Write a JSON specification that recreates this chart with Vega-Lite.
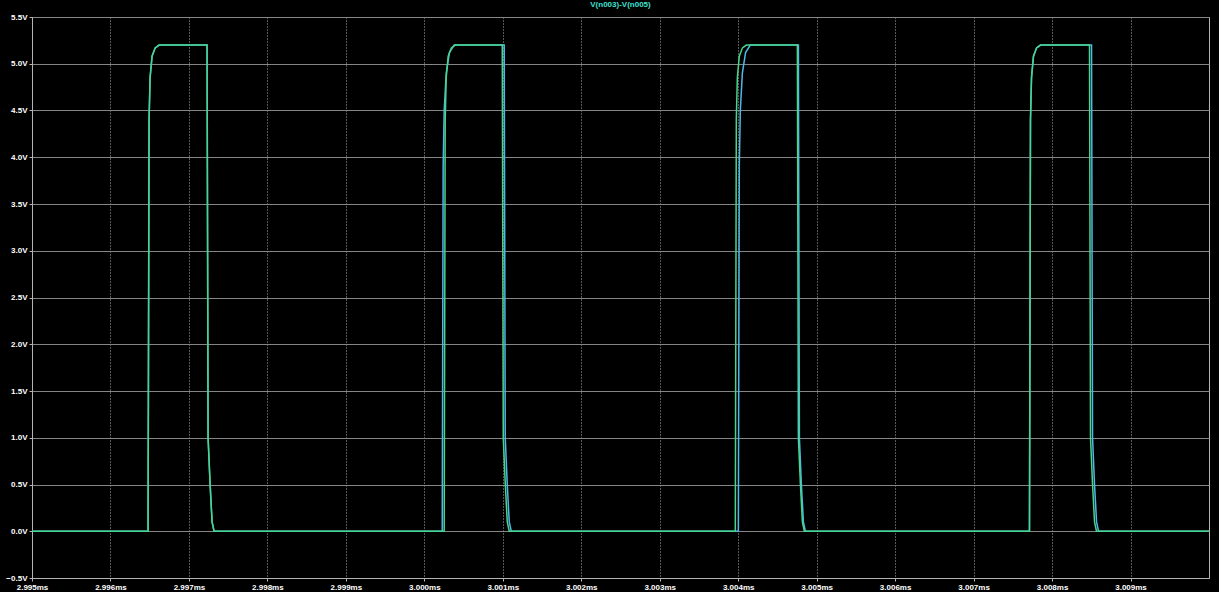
{
  "$schema": "https://vega.github.io/schema/vega-lite/v6.json",
  "width": 1177,
  "height": 561,
  "autosize": {"type": "none"},
  "padding": {"left": 32, "top": 17, "right": 10, "bottom": 14},
  "background": "#000000",
  "title": {"text": "V(n003)-V(n005)", "fontSize": 8, "font": "Liberation Sans", "fontWeight": "bold", "color": "#3fe0d0", "offset": 4, "anchor": "middle"},
  "config": {
    "view": {"stroke": "#b4b4b4", "strokeWidth": 1, "fill": "#000000"},
    "axis": {
      "labelColor": "#ffffff", "labelFont": "Liberation Sans", "labelFontSize": 8, "labelFontWeight": "bold",
      "domainColor": "#b4b4b4", "tickColor": "#b4b4b4", "tickSize": 3, "labelPadding": 2, "title": null
    }
  },
  "datasets": {
    "traces": [
      {"trace": "V(n005)", "t": 2.995, "v": 0},
      {"trace": "V(n005)", "t": 2.996479, "v": 0},
      {"trace": "V(n005)", "t": 2.996492, "v": 4.4},
      {"trace": "V(n005)", "t": 2.996505, "v": 4.85},
      {"trace": "V(n005)", "t": 2.99653, "v": 5.08},
      {"trace": "V(n005)", "t": 2.99657, "v": 5.17},
      {"trace": "V(n005)", "t": 2.99662, "v": 5.2},
      {"trace": "V(n005)", "t": 2.997231, "v": 5.2},
      {"trace": "V(n005)", "t": 2.997244, "v": 1.0},
      {"trace": "V(n005)", "t": 2.99727, "v": 0.5},
      {"trace": "V(n005)", "t": 2.997295, "v": 0.1},
      {"trace": "V(n005)", "t": 2.99732, "v": 0},
      {"trace": "V(n005)", "t": 3.000228, "v": 0},
      {"trace": "V(n005)", "t": 3.00024, "v": 3.9},
      {"trace": "V(n005)", "t": 3.000253, "v": 4.5},
      {"trace": "V(n005)", "t": 3.000279, "v": 4.9},
      {"trace": "V(n005)", "t": 3.00032, "v": 5.12},
      {"trace": "V(n005)", "t": 3.00038, "v": 5.2},
      {"trace": "V(n005)", "t": 3.001018, "v": 5.2},
      {"trace": "V(n005)", "t": 3.001031, "v": 1.0},
      {"trace": "V(n005)", "t": 3.001057, "v": 0.5},
      {"trace": "V(n005)", "t": 3.001082, "v": 0.1},
      {"trace": "V(n005)", "t": 3.001108, "v": 0},
      {"trace": "V(n005)", "t": 3.004002, "v": 0},
      {"trace": "V(n005)", "t": 3.004014, "v": 3.9},
      {"trace": "V(n005)", "t": 3.004027, "v": 4.5},
      {"trace": "V(n005)", "t": 3.004053, "v": 4.9},
      {"trace": "V(n005)", "t": 3.004094, "v": 5.12},
      {"trace": "V(n005)", "t": 3.004154, "v": 5.2},
      {"trace": "V(n005)", "t": 3.004767, "v": 5.2},
      {"trace": "V(n005)", "t": 3.00478, "v": 1.0},
      {"trace": "V(n005)", "t": 3.004805, "v": 0.5},
      {"trace": "V(n005)", "t": 3.004831, "v": 0.1},
      {"trace": "V(n005)", "t": 3.004856, "v": 0},
      {"trace": "V(n005)", "t": 3.007712, "v": 0},
      {"trace": "V(n005)", "t": 3.007725, "v": 4.4},
      {"trace": "V(n005)", "t": 3.007738, "v": 4.85},
      {"trace": "V(n005)", "t": 3.007763, "v": 5.08},
      {"trace": "V(n005)", "t": 3.007803, "v": 5.17},
      {"trace": "V(n005)", "t": 3.007853, "v": 5.2},
      {"trace": "V(n005)", "t": 3.008503, "v": 5.2},
      {"trace": "V(n005)", "t": 3.008516, "v": 1.0},
      {"trace": "V(n005)", "t": 3.008541, "v": 0.5},
      {"trace": "V(n005)", "t": 3.008567, "v": 0.1},
      {"trace": "V(n005)", "t": 3.008592, "v": 0},
      {"trace": "V(n005)", "t": 3.01, "v": 0},

      {"trace": "V(n003)", "t": 2.995, "v": 0},
      {"trace": "V(n003)", "t": 2.996479, "v": 0},
      {"trace": "V(n003)", "t": 2.996492, "v": 4.4},
      {"trace": "V(n003)", "t": 2.996505, "v": 4.85},
      {"trace": "V(n003)", "t": 2.99653, "v": 5.08},
      {"trace": "V(n003)", "t": 2.99657, "v": 5.17},
      {"trace": "V(n003)", "t": 2.99662, "v": 5.2},
      {"trace": "V(n003)", "t": 2.997231, "v": 5.2},
      {"trace": "V(n003)", "t": 2.997244, "v": 1.0},
      {"trace": "V(n003)", "t": 2.99727, "v": 0.5},
      {"trace": "V(n003)", "t": 2.997295, "v": 0.1},
      {"trace": "V(n003)", "t": 2.99732, "v": 0},
      {"trace": "V(n003)", "t": 3.000253, "v": 0},
      {"trace": "V(n003)", "t": 3.000266, "v": 4.4},
      {"trace": "V(n003)", "t": 3.000279, "v": 4.85},
      {"trace": "V(n003)", "t": 3.000304, "v": 5.08},
      {"trace": "V(n003)", "t": 3.000344, "v": 5.17},
      {"trace": "V(n003)", "t": 3.000394, "v": 5.2},
      {"trace": "V(n003)", "t": 3.000993, "v": 5.2},
      {"trace": "V(n003)", "t": 3.001006, "v": 1.0},
      {"trace": "V(n003)", "t": 3.001032, "v": 0.5},
      {"trace": "V(n003)", "t": 3.001057, "v": 0.1},
      {"trace": "V(n003)", "t": 3.001082, "v": 0},
      {"trace": "V(n003)", "t": 3.003963, "v": 0},
      {"trace": "V(n003)", "t": 3.003976, "v": 4.4},
      {"trace": "V(n003)", "t": 3.003989, "v": 4.85},
      {"trace": "V(n003)", "t": 3.004014, "v": 5.08},
      {"trace": "V(n003)", "t": 3.004054, "v": 5.17},
      {"trace": "V(n003)", "t": 3.004104, "v": 5.2},
      {"trace": "V(n003)", "t": 3.004754, "v": 5.2},
      {"trace": "V(n003)", "t": 3.004767, "v": 1.0},
      {"trace": "V(n003)", "t": 3.004793, "v": 0.5},
      {"trace": "V(n003)", "t": 3.004818, "v": 0.1},
      {"trace": "V(n003)", "t": 3.004843, "v": 0},
      {"trace": "V(n003)", "t": 3.007712, "v": 0},
      {"trace": "V(n003)", "t": 3.007725, "v": 4.4},
      {"trace": "V(n003)", "t": 3.007738, "v": 4.85},
      {"trace": "V(n003)", "t": 3.007763, "v": 5.08},
      {"trace": "V(n003)", "t": 3.007803, "v": 5.17},
      {"trace": "V(n003)", "t": 3.007853, "v": 5.2},
      {"trace": "V(n003)", "t": 3.008477, "v": 5.2},
      {"trace": "V(n003)", "t": 3.00849, "v": 1.0},
      {"trace": "V(n003)", "t": 3.008516, "v": 0.5},
      {"trace": "V(n003)", "t": 3.008541, "v": 0.1},
      {"trace": "V(n003)", "t": 3.008566, "v": 0},
      {"trace": "V(n003)", "t": 3.01, "v": 0}
    ]
  },
  "data": {"name": "traces"},
  "mark": {"type": "line", "strokeWidth": 1.5, "interpolate": "linear", "clip": true},
  "encoding": {
    "x": {
      "field": "t", "type": "quantitative",
      "scale": {"domain": [2.995, 3.01], "nice": false, "zero": false},
      "axis": {
        "values": [2.995, 2.996, 2.997, 2.998, 2.999, 3.0, 3.001, 3.002, 3.003, 3.004, 3.005, 3.006, 3.007, 3.008, 3.009],
        "labelExpr": "format(datum.value, '.3f') + 'ms'",
        "grid": true, "gridColor": "#b0b0b0", "gridDash": [1, 2], "gridWidth": 1, "labelFlush": false
      }
    },
    "y": {
      "field": "v", "type": "quantitative",
      "scale": {"domain": [-0.5, 5.5], "nice": false, "zero": false},
      "axis": {
        "values": [-0.5, 0, 0.5, 1, 1.5, 2, 2.5, 3, 3.5, 4, 4.5, 5, 5.5],
        "labelExpr": "format(datum.value, '.1f') + 'V'",
        "grid": true, "gridColor": "#858585", "gridWidth": 1, "labelFlush": false
      }
    },
    "color": {
      "field": "trace", "type": "nominal",
      "scale": {"domain": ["V(n005)", "V(n003)"], "range": ["#4fb8e8", "#46d68c"]},
      "legend": null
    },
    "order": {"field": "t", "type": "quantitative"}
  }
}
